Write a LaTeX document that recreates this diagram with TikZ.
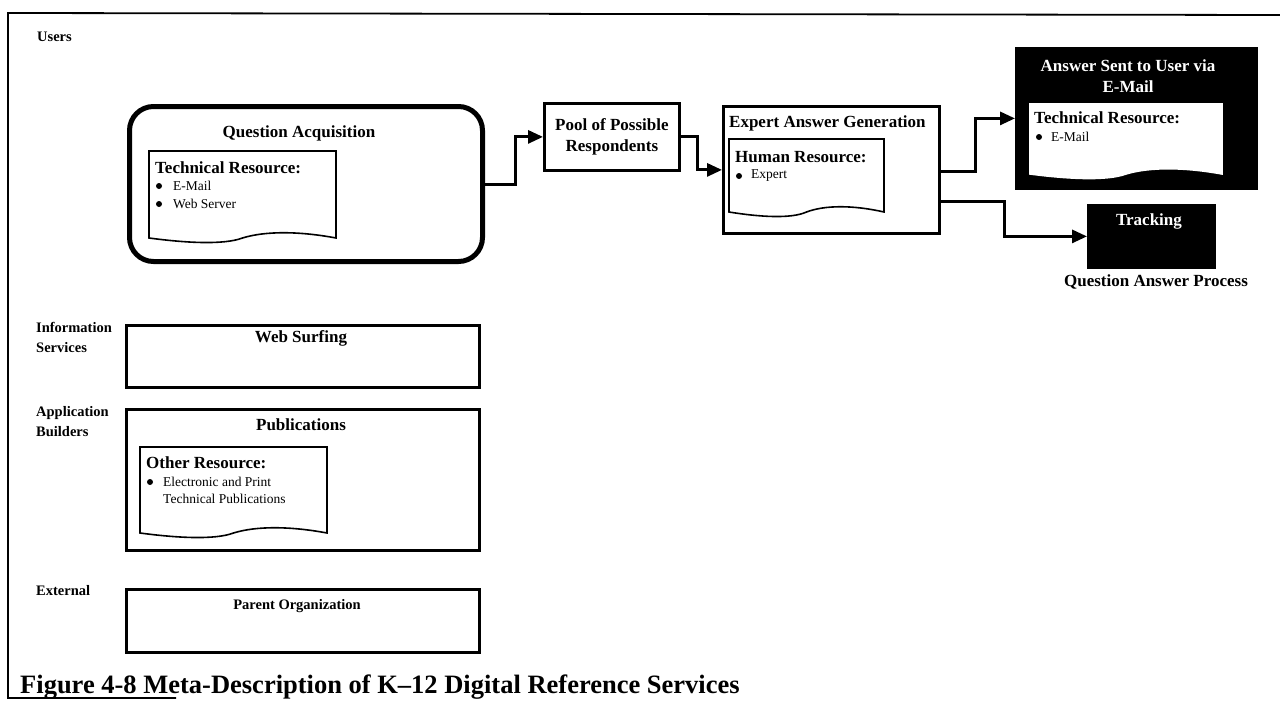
\documentclass[tikz,border=0pt]{standalone}
\usepackage{fontspec}
\setmainfont{Liberation Serif}
\usetikzlibrary{arrows.meta}

% type sizes used in the chart
\newcommand\dHead{\fontsize{17}{21}\selectfont\bfseries}
\newcommand\dHeadS{\fontsize{14.5}{18}\selectfont\bfseries}
\newcommand\dSmall{\fontsize{13.5}{17}\selectfont}
\newcommand\dLabel{\fontsize{14.5}{20}\selectfont\bfseries}
\newcommand\dCaption{\fontsize{26.5}{32}\selectfont\bfseries}

% resource sheet: rectangle with a wavy lower edge
% #2,#3 = top left corner, #4,#5 = bottom right corner
\newcommand\docshape[5][]{%
  \draw[line width=1.6pt, fill=white, #1] (#2,#3) -- (#4,#3) -- (#4,#5)
    .. controls ({#2+0.8*(#4-#2)},{#5-7}) and ({#2+0.62*(#4-#2)},{#5-7}) .. ({#2+0.5*(#4-#2)},{#5})
    .. controls ({#2+0.4*(#4-#2)},{#5+7}) and ({#2+0.2*(#4-#2)},{#5+5}) .. (#2,#5) -- cycle;}

\begin{document}
\begin{tikzpicture}[x=1pt,y=-1pt,
  box/.style={draw, line width=2.8pt, inner sep=0pt, anchor=north west},
  head/.style={font=\dHead, inner sep=0pt},
  smalltxt/.style={font=\dSmall, inner sep=0pt, anchor=west},
  lbl/.style={font=\dLabel, inner sep=0pt, anchor=west, align=left},
  arr/.style={line width=3pt, -{Triangle[length=15pt,width=13pt]}}]
\useasboundingbox (0,0) rectangle (1280,701);
\fill[white] (0,0) rectangle (1280,701);

% outer frame
\draw[line width=1.8pt] (1280,15) -- (8,13) -- (8,698) -- (176,698);

% ---- Users lane
\node[lbl] (users) at (37,37) {Users};

\node[box, line width=5pt, rounded corners=24pt, minimum width=353pt, minimum height=155pt] (qa) at (127,104) {};
\node[head] (qat) at (299,133) {Question Acquisition};
\docshape{149}{151}{336}{238}
\node[head, anchor=west] (qar) at (155,168) {Technical Resource:};
\fill (159,186) circle (3);
\node[smalltxt] (qa1) at (173,186) {E-Mail};
\fill (159,204) circle (3);
\node[smalltxt] (qa2) at (173,204) {Web Server};

\node[box, minimum width=135pt, minimum height=67pt, font=\dHead, align=center] (pool) at (543,102) {Pool of Possible\\Respondents};

\node[box, minimum width=216pt, minimum height=127pt] (expert) at (722,105) {};
\node[head, anchor=west] (expt) at (729,123) {Expert Answer Generation};
\docshape{729}{139}{884}{212}
\node[head, anchor=west] (expr) at (735,157) {Human Resource:};
\fill (739,176) circle (3);
\node[smalltxt] (exp1) at (751,176) {Expert};

\node[box, fill=black, minimum width=240pt, minimum height=140pt] (answer) at (1015,47) {};
\node[head, text=white, align=center] (anst) at (1128,76) {Answer Sent to User via\\E-Mail};
\docshape[draw=white]{1030}{104}{1222}{174}
\node[head, anchor=west] (ansr) at (1034,118) {Technical Resource:};
\fill (1039,137) circle (3);
\node[smalltxt] (ans1) at (1051,137) {E-Mail};

\node[box, fill=black, minimum width=126pt, minimum height=62pt] (track) at (1087,204) {};
\node[head, text=white] (trackt) at (1149,221) {Tracking};
\node[head] (qap) at (1156,282) {Question Answer Process};

% ---- flow of a question
\draw[arr] (qa.east) -- ++(30,0) |- (pool.west);
\draw[arr] (pool.east) -- ++(17,0) |- (expert.west);
\draw[arr] ([yshift=-1.5pt]expert.east) -- ++(35,0) |- (answer.west);
\draw[arr] ([yshift=-32pt]expert.east) -- ++(64,0) |- (track.west);

% ---- Information Services lane
\node[lbl] (info) at (36,337) {Information\\Services};
\node[box, minimum width=353pt, minimum height=62pt] (web) at (125,324) {};
\node[head] (webt) at (301,338) {Web Surfing};

% ---- Application Builders lane
\node[lbl] (app) at (36,422) {Application\\Builders};
\node[box, minimum width=353pt, minimum height=141pt] (pub) at (125,408) {};
\node[head] (pubt) at (301,425) {Publications};
\docshape{140}{447}{327}{533}
\node[head, anchor=west] (pubr) at (146,463) {Other Resource:};
\fill (150,482) circle (3);
\node[smalltxt] (pub1) at (163,482) {Electronic and Print};
\node[smalltxt] (pub2) at (163,499) {Technical Publications};

% ---- External lane
\node[lbl] (ext) at (36,591) {External};
\node[box, minimum width=353pt, minimum height=63pt] (parent) at (125,588) {};
\node[head, font=\dHeadS] (parentt) at (297,606) {Parent Organization};

% caption
\node[font=\dCaption, anchor=base west, inner sep=0pt] (caption) at (20,693) {Figure 4-8 Meta-Description of K–12 Digital Reference Services};
\end{tikzpicture}
\end{document}
